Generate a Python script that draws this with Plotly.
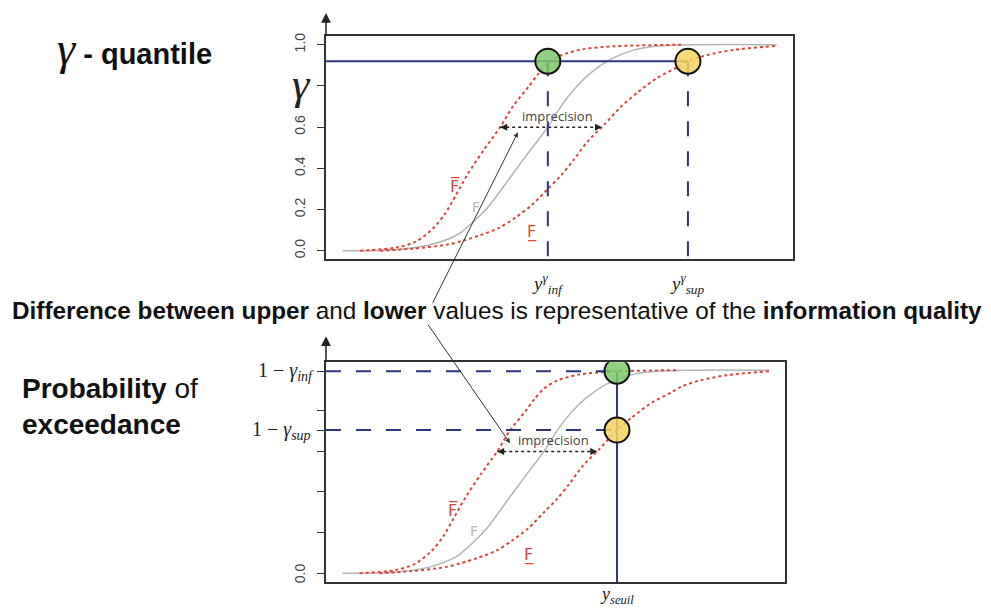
import plotly.graph_objects as go

# page has an 8px body margin: figure is placed at (8, 8)
OFF = 8
W, H = 991 - OFF, 610 - OFF

# ---- data (abscissa in arbitrary units 0-100, ordinate = cumulative probability) ----
x_gray = [3.6, 15, 22.5, 28.3, 31.5, 35, 38.3, 41.5, 44.5, 47.5, 50, 53, 56.5, 61, 66, 72, 80, 96.5]
p_gray = [0, 0.005, 0.03, 0.08, 0.14, 0.22, 0.32, 0.42, 0.51, 0.6, 0.69, 0.78, 0.86, 0.93, 0.975, 0.995, 1.0, 1.0]
x_upper = [7.3, 15, 19.3, 23, 25.5, 27.8, 30.3, 33.8, 37.3, 40, 43.5, 45.5, 47.5, 50.5, 55, 62, 76.5]
p_upper = [0, 0.015, 0.045, 0.11, 0.18, 0.27, 0.37, 0.49, 0.6, 0.7, 0.8, 0.86, 0.91, 0.95, 0.978, 0.993, 1.0]
x_lower = [11.6, 18.6, 26, 29.5, 33, 37, 40.5, 44, 47.5, 50.5, 53, 56, 59.5, 63.2, 66.8, 71, 75.2, 77.5, 81.6, 87.3, 96.5]
p_lower = [0, 0.01, 0.03, 0.05, 0.075, 0.11, 0.16, 0.22, 0.3, 0.37, 0.44, 0.53, 0.61, 0.7, 0.77, 0.84, 0.89, 0.92, 0.95, 0.975, 0.995]

gamma = 0.92
y_inf = 47.5
y_sup = 77.5
y_seuil = 63.4
p_inf = 0.995
p_sup = 0.705
imprecision_x = [37.3, 59.1]
imprecision_p = 0.6
y_ticks = [0.0, 0.2, 0.4, 0.6, 0.8, 1.0]
y_ticktext = ["0.0", "0.2", "0.4", "0.6", "", "1.0"]
y2_ticks = [0.0, 0.2, 0.4, 0.6, p_sup, 0.8, p_inf]


def px(x):
    return (x - OFF) / W


def py(y):
    return 1 - (y - OFF) / H


RED = "#e0453c"
GRAY = "#b4b4b4"
NAVY = "#2c3580"
BOX = "#333333"

fig = go.Figure()

for xa, ya in (("x", "y"), ("x2", "y2")):
    fig.add_trace(go.Scatter(x=x_gray, y=p_gray, xaxis=xa, yaxis=ya, mode="lines",
                             line=dict(color=GRAY, width=1.5, shape="spline", smoothing=0.8),
                             hoverinfo="skip"))
    fig.add_trace(go.Scatter(x=x_upper, y=p_upper, xaxis=xa, yaxis=ya, mode="lines",
                             line=dict(color=RED, width=2, dash="dot", shape="spline", smoothing=0.8),
                             hoverinfo="skip"))
    fig.add_trace(go.Scatter(x=x_lower, y=p_lower, xaxis=xa, yaxis=ya, mode="lines",
                             line=dict(color=RED, width=2, dash="dot", shape="spline", smoothing=0.8),
                             hoverinfo="skip"))
    # imprecision double arrow
    fig.add_trace(go.Scatter(x=imprecision_x, y=[imprecision_p, imprecision_p], xaxis=xa, yaxis=ya,
                             mode="lines+markers",
                             line=dict(color="#222", width=1.5, dash="dot"),
                             marker=dict(symbol=["arrow-left", "arrow-right"], size=7, color="#222"),
                             hoverinfo="skip"))

# top panel reference lines
fig.add_trace(go.Scatter(x=[0, y_sup], y=[gamma, gamma], xaxis="x", yaxis="y", mode="lines",
                         line=dict(color=NAVY, width=2), hoverinfo="skip"))
for xv in (y_inf, y_sup):
    fig.add_trace(go.Scatter(x=[xv, xv], y=[gamma, -0.039], xaxis="x", yaxis="y", mode="lines",
                             line=dict(color=NAVY, width=2, dash="longdash"), hoverinfo="skip"))
fig.add_trace(go.Scatter(x=[y_inf, y_sup], y=[gamma, gamma], xaxis="x", yaxis="y", mode="markers",
                         marker=dict(size=25, color=["rgba(125,200,105,0.85)", "rgba(244,210,95,0.85)"],
                                     line=dict(color="#111", width=2)),
                         hoverinfo="skip"))

# bottom panel reference lines
for pv in (p_inf, p_sup):
    fig.add_trace(go.Scatter(x=[0, y_seuil], y=[pv, pv], xaxis="x2", yaxis="y2", mode="lines",
                             line=dict(color=NAVY, width=2, dash="longdash"), hoverinfo="skip"))
fig.add_trace(go.Scatter(x=[y_seuil, y_seuil], y=[p_inf, -0.044], xaxis="x2", yaxis="y2", mode="lines",
                         line=dict(color=NAVY, width=2), hoverinfo="skip"))
fig.add_trace(go.Scatter(x=[y_seuil, y_seuil], y=[p_inf, p_sup], xaxis="x2", yaxis="y2", mode="markers",
                         marker=dict(size=25, color=["rgba(125,200,105,0.85)", "rgba(244,210,95,0.85)"],
                                     line=dict(color="#111", width=2)),
                         hoverinfo="skip"))

axis_common = dict(showgrid=False, zeroline=False, showline=True, mirror=True,
                   linecolor=BOX, linewidth=1.5)

fig.update_layout(
    width=W, height=H, autosize=False,
    margin=dict(l=0, r=0, t=0, b=0),
    paper_bgcolor="white", plot_bgcolor="white",
    showlegend=False,
    xaxis=dict(domain=[px(326), px(793)], range=[0, 100], anchor="y",
               showticklabels=False, ticks="", **axis_common),
    yaxis=dict(domain=[py(257), py(33)], range=[-0.039, 1.043], anchor="x",
               tickvals=y_ticks, ticktext=y_ticktext, tickangle=-90,
               ticks="outside", ticklen=7, tickcolor=BOX, tickwidth=1.2,
               tickfont=dict(family="Liberation Sans, Arial", size=14, color="#444"),
               ticklabelstandoff=7, **axis_common),
    xaxis2=dict(domain=[px(326), px(785)], range=[0, 100], anchor="y2",
                showticklabels=False, ticks="", **axis_common),
    yaxis2=dict(domain=[py(582), py(361)], range=[-0.044, 1.039], anchor="x2",
                tickvals=y2_ticks, ticktext=[""] * len(y2_ticks),
                ticks="outside", ticklen=7, tickcolor=BOX, tickwidth=1.2, **axis_common),
)

ann = []
SANS = "Liberation Sans, Arial"
SERIF = "Liberation Serif, Times New Roman"

# titles
ann.append(dict(xref="paper", yref="paper", x=px(55), y=py(46), xanchor="left", yanchor="middle",
                text="<span style='font-family:Liberation Serif;font-size:46px'><i>γ</i></span>"
                     "<b> - quantile</b>",
                font=dict(family=SANS, size=29, color="#111"), showarrow=False))
ann.append(dict(xref="paper", yref="paper", x=px(20), y=py(405), xanchor="left", yanchor="middle",
                align="left",
                text="<b>Probability</b> of<br><b>exceedance</b>",
                font=dict(family=SANS, size=28, color="#111"), showarrow=False))
ann.append(dict(xref="paper", yref="paper", x=px(497), y=py(309), xanchor="center", yanchor="middle",
                text="<b>Difference between upper</b> and <b>lower</b> values is representative of the "
                     "<b>information quality</b>",
                font=dict(family=SANS, size=24.3, color="#111"), showarrow=False))

# y labels
ann.append(dict(xref="paper", yref="paper", x=px(301), y=py(82), xanchor="center", yanchor="middle",
                text="<i>γ</i>",
                font=dict(family=SERIF, size=44, color="#222"), showarrow=False))
ann.append(dict(xref="paper", yref="y2", x=px(300), y=0.0, xanchor="center", yanchor="middle",
                text="0.0", textangle=-90,
                font=dict(family=SANS, size=14, color="#444"), showarrow=False))
ann.append(dict(xref="paper", yref="y2", x=px(316), y=p_inf, xanchor="right", yanchor="middle",
                text="1&nbsp;−&nbsp;<i>γ<sub>inf</sub></i>",
                font=dict(family=SERIF, size=20, color="#222"), showarrow=False))
ann.append(dict(xref="paper", yref="y2", x=px(313), y=p_sup, xanchor="right", yanchor="middle",
                text="1&nbsp;−&nbsp;<i>γ<sub>sup</sub></i>",
                font=dict(family=SERIF, size=20, color="#222"), showarrow=False))

# x labels
ann.append(dict(xref="x", yref="paper", x=y_inf, y=py(282), xanchor="center", yanchor="middle",
                text="<i>y<sup>γ</sup><sub>inf</sub></i>",
                font=dict(family=SERIF, size=19, color="#222"), showarrow=False))
ann.append(dict(xref="x", yref="paper", x=y_sup, y=py(282), xanchor="center", yanchor="middle",
                text="<i>y<sup>γ</sup><sub>sup</sub></i>",
                font=dict(family=SERIF, size=19, color="#222"), showarrow=False))
ann.append(dict(xref="x2", yref="paper", x=y_seuil, y=py(595), xanchor="center", yanchor="middle",
                text="<i>y<sub>seuil</sub></i>",
                font=dict(family=SERIF, size=18, color="#222"), showarrow=False))

# curve labels and imprecision text
for xa, ya in (("x", "y"), ("x2", "y2")):
    ann.append(dict(xref=xa, yref=ya, x=27.6, y=0.31, text="F\u0305", showarrow=False,
                    font=dict(family="DejaVu Sans", size=16, color=RED)))
    ann.append(dict(xref=xa, yref=ya, x=32.2, y=0.21, text="F", showarrow=False,
                    font=dict(family="DejaVu Sans", size=14, color="#b8b8b8")))
    ann.append(dict(xref=xa, yref=ya, x=44.2, y=0.09, text="F\u0332", showarrow=False,
                    font=dict(family="DejaVu Sans", size=16, color=RED)))
    ann.append(dict(xref=xa, yref=ya, x=49.6, y=0.655, text="imprecision", showarrow=False,
                    font=dict(family="Open Sans", size=13, color="#444")))

# long explanatory arrows
ann.append(dict(xref="x", yref="y", x=41.1, y=0.575, ax=-86, ay=172, text="", showarrow=True,
                arrowhead=2, arrowsize=1, arrowwidth=1, arrowcolor="#333"))
ann.append(dict(xref="x2", yref="y2", x=40.1, y=0.64, ax=-83, ay=-120, text="", showarrow=True,
                arrowhead=2, arrowsize=1, arrowwidth=1, arrowcolor="#333"))

# axis arrows
ann.append(dict(xref="paper", yref="paper", x=px(326), y=py(10), ax=0, ay=24, text="", showarrow=True,
                arrowhead=2, arrowsize=1.3, arrowwidth=1.5, arrowcolor="#222"))
ann.append(dict(xref="paper", yref="paper", x=px(326), y=py(335), ax=0, ay=27, text="", showarrow=True,
                arrowhead=2, arrowsize=1.3, arrowwidth=1.5, arrowcolor="#222"))

fig.update_layout(annotations=ann)
fig.write_html("out.html")
